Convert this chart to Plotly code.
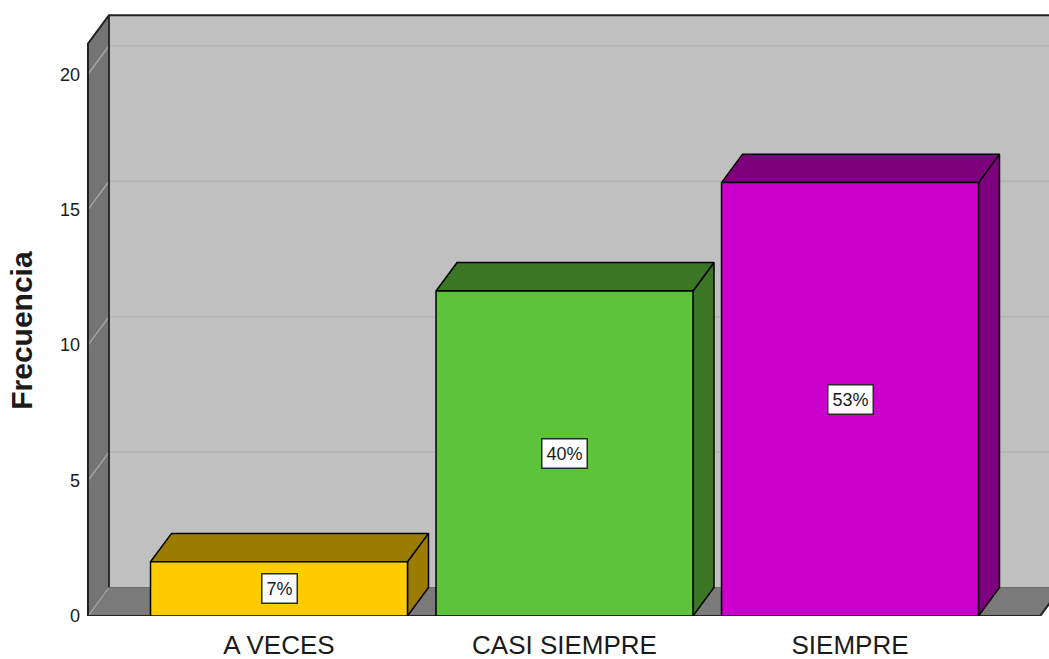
import plotly.graph_objects as go

# ---- data ----
categories = ["A VECES", "CASI SIEMPRE", "SIEMPRE"]
counts = [2, 12, 16]
front_colors = ["#FFCC00", "#5DC33A", "#CC00CC"]
shade_colors = ["#9C7C00", "#3A7623", "#7D007D"]
y_ticks = [0, 5, 10, 15, 20]

# ---- 3D box geometry (data units) ----
X_RANGE = [-0.6795, 2.697]
Y_RANGE = [0, 22.26]
WALL_LEFT = -0.669          # front-left edge of the box
FLOOR_RIGHT = 2.666         # front-right edge of the floor
DX, DY = 0.0736, 1.05       # depth offset
WALL_TOP_FRONT = 21.13
HALF = 0.45                 # half bar width
FAR = 3.2                   # beyond right edge (clipped)

FONT = "Liberation Sans, Arial, sans-serif"

fig = go.Figure()


def poly(xs, ys, fill, line_color="black", width=1.5):
    fig.add_trace(go.Scatter(
        x=xs + [xs[0]], y=ys + [ys[0]], mode="lines", fill="toself",
        fillcolor=fill,
        line=dict(color=line_color, width=width),
        hoverinfo="skip", showlegend=False))


def seg(xs, ys, color, width):
    fig.add_trace(go.Scatter(
        x=xs, y=ys, mode="lines", line=dict(color=color, width=width),
        hoverinfo="skip", showlegend=False))


wl, wt = WALL_LEFT, WALL_TOP_FRONT
# back wall
poly([wl + DX, FAR, FAR, wl + DX], [DY, DY, wt + DY, wt + DY], "#C0C0C0", "rgba(0,0,0,0)", 0)
# floor
poly([wl, FLOOR_RIGHT, FLOOR_RIGHT + DX, wl + DX], [0, 0, DY, DY], "#7A7A7A", "rgba(0,0,0,0)", 0)
# left wall
poly([wl, wl + DX, wl + DX, wl], [0, DY, wt + DY, wt], "#747474", "rgba(0,0,0,0)", 0)

# gridlines
for v in y_ticks[1:]:
    seg([wl + DX, FAR], [v + DY, v + DY], "#B2B2B2", 1.5)
    seg([wl, wl + DX], [v, v + DY], "#A4A4A4", 1.5)

# box edges
seg([wl + DX, FAR], [DY, DY], "#6A6A6A", 1)
seg([wl, wl + DX], [0, DY], "#A4A4A4", 1.2)
seg([wl + DX, wl + DX], [DY, wt + DY], "#222222", 1.8)
seg([wl, wl, wl + DX, FAR], [0, wt, wt + DY, wt + DY], "#222222", 2)
seg([wl, FLOOR_RIGHT, FLOOR_RIGHT + DX], [0, 0, DY], "#222222", 2)

# bars
for i, v in enumerate(counts):
    x0, x1 = i - HALF, i + HALF
    poly([x1, x1 + DX, x1 + DX, x1], [0, DY, v + DY, v], shade_colors[i])
    poly([x0, x1, x1 + DX, x0 + DX], [v, v, v + DY, v + DY], shade_colors[i])
    poly([x0, x1, x1, x0], [0, 0, v, v], front_colors[i])

total = sum(counts)
for i, v in enumerate(counts):
    fig.add_annotation(
        x=i, y=v / 2, xref="x", yref="y", text=f"{round(100 * v / total)}%",
        showarrow=False, bgcolor="white", bordercolor="#2a2a2a", borderwidth=1.5,
        borderpad=4, font=dict(family=FONT, size=18, color="#1a1a1a"))

fig.add_annotation(
    x=-0.0654, y=WALL_TOP_FRONT / 2, xref="paper", yref="y", text="<b>Frecuencia</b>",
    textangle=-90, showarrow=False, xanchor="center", yanchor="middle",
    font=dict(family=FONT, size=30, color="#1a1a1a"))

fig.update_layout(
    width=1049, height=659,
    margin=dict(l=85, r=0, t=13, b=43),
    paper_bgcolor="white", plot_bgcolor="white",
    showlegend=False,
    xaxis=dict(range=X_RANGE, tickvals=list(range(len(categories))), ticktext=categories,
               showgrid=False, zeroline=False, showline=False, ticks="",
               tickfont=dict(family=FONT, size=26, color="#1a1a1a"),
               ticklabelstandoff=11, fixedrange=True),
    yaxis=dict(range=Y_RANGE, tickvals=y_ticks, showgrid=False, zeroline=False,
               showline=False, ticks="", ticklabelstandoff=4,
               tickfont=dict(family=FONT, size=18, color="#1a1a1a"), fixedrange=True),
)

fig.write_html("out.html")
